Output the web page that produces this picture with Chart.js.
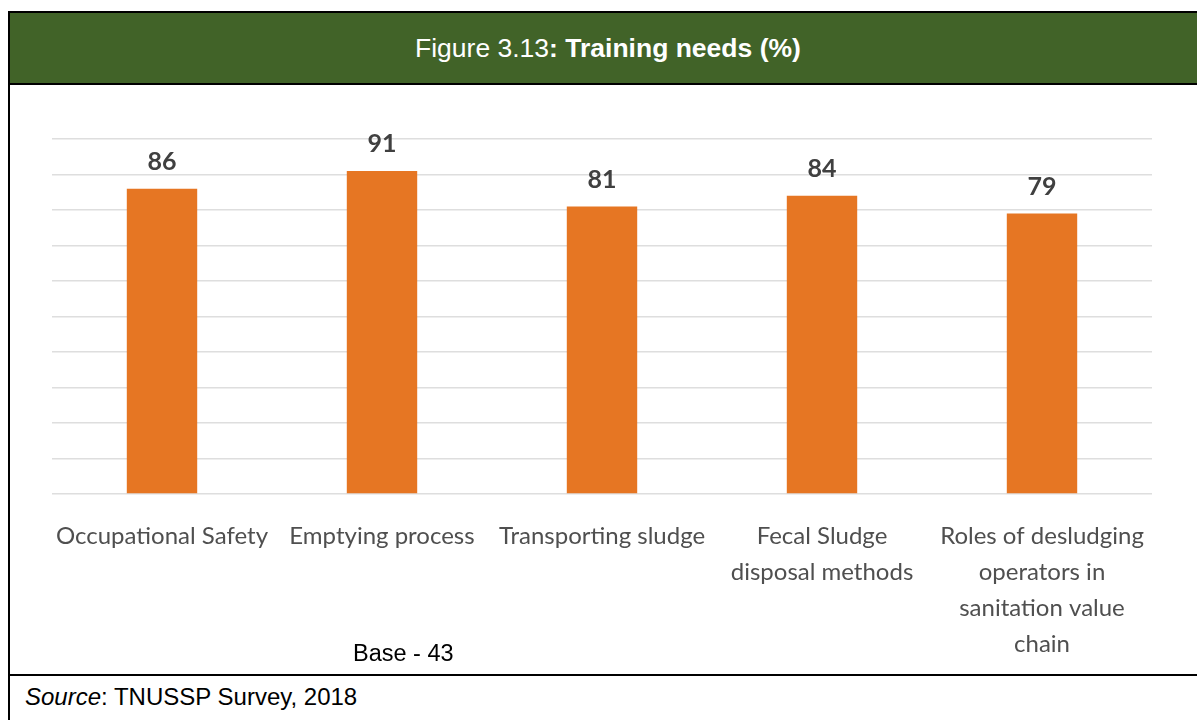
<!DOCTYPE html>
<html>
<head>
<meta charset="utf-8">
<script src="https://cdn.jsdelivr.net/npm/chart.js@4/dist/chart.umd.min.js"></script>
<style>
  body { margin: 0; background: #fff; width: 1197px; height: 720px; overflow: hidden; position: relative; font-family: "Liberation Sans", Arial, sans-serif; }
  .abs { position: absolute; }
  #header { left: 8px; top: 11px; width: 1195px; height: 70px; background: #416328; border-top: 2px solid #000; border-bottom: 2px solid #000; border-left: 2px solid #000; }
  #title { left: 415px; top: 33px; height: 30px; line-height: 30px; font-size: 26.5px; color: #fff; white-space: nowrap; }
  #leftline { left: 8px; top: 11px; width: 2px; height: 720px; background: #000; }
  #segL { left: 8px; top: 83px; width: 46px; height: 2px; background: #000; }
  #segR { left: 1162px; top: 83px; width: 40px; height: 2px; background: #000; }
  #bottomline { left: 8px; top: 674px; width: 1195px; height: 2px; background: #000; }
  #base { left: 353px; top: 640px; height: 26px; line-height: 26px; font-size: 23.5px; color: #000; white-space: nowrap; }
  #source { left: 25px; top: 684px; height: 26px; line-height: 26px; font-size: 24px; color: #000; white-space: nowrap; }
  #wrap { left: 0; top: 85px; width: 1197px; height: 589px; }
</style>
</head>
<body>
<div id="header" class="abs"></div>
<div id="title" class="abs">Figure 3.13<b>: Training needs (%)</b></div>
<div id="leftline" class="abs"></div>
<div id="segL" class="abs"></div>
<div id="segR" class="abs"></div>
<div id="wrap" class="abs"><canvas id="trainingChart"></canvas></div>
<div id="bottomline" class="abs"></div>
<div id="base" class="abs">Base - 43</div>
<div id="source" class="abs"><i>Source</i>: TNUSSP Survey, 2018</div>

<script>
// categories (multi-line labels as in the figure)
var categories = [
  "Occupational Safety",
  "Emptying process",
  "Transporting sludge",
  ["Fecal Sludge", "disposal methods"],
  ["Roles of desludging", "operators in", "sanitation value", "chain"]
];
// share of respondents needing training (%)
var trainingNeeds = [86, 91, 81, 84, 79];

// draws the value above each bar
var barValues = {
  id: 'barValues',
  afterDatasetsDraw: function(chart) {
    var ctx = chart.ctx;
    ctx.save();
    ctx.font = 'bold 25px Lato, "Open Sans", sans-serif';
    ctx.fillStyle = '#404040';
    ctx.textAlign = 'center';
    ctx.textBaseline = 'middle';
    chart.getDatasetMeta(0).data.forEach(function(bar, i) {
      ctx.fillText(chart.data.datasets[0].data[i], bar.x, bar.y - 27);
    });
    ctx.restore();
  }
};

window.onload = function() {
  var ctx = document.getElementById('trainingChart').getContext('2d');
  var chart = new Chart(ctx, {
    type: 'bar',
    data: {
      labels: categories,
      datasets: [{
        label: 'Training needs (%)',
        data: trainingNeeds,
        backgroundColor: '#e67623',
        borderWidth: 0,
        categoryPercentage: 1,
        barPercentage: 0.32
      }]
    },
    options: {
      responsive: true,
      maintainAspectRatio: false,
      animation: false,
      layout: { padding: { left: 52, right: 45, top: 54, bottom: 0 } },
      plugins: {
        legend: { display: false },
        tooltip: { enabled: false }
      },
      scales: {
        x: {
          grid: { display: false, drawTicks: false },
          border: { display: false },
          afterFit: function(scale) { scale.height = 180; },
          ticks: {
            autoSkip: false,
            maxRotation: 0,
            minRotation: 0,
            padding: 24,
            color: '#4f4f4f',
            font: { family: 'Lato, "Open Sans", sans-serif', size: 24, lineHeight: 1.5 }
          }
        },
        y: {
          min: 0,
          max: 100,
          grid: { color: '#dedede', lineWidth: 1.5, drawTicks: false },
          border: { display: false },
          ticks: { display: false, stepSize: 10 }
        }
      }
    },
    plugins: [barValues]
  });
}
</script>
</body>
</html>
